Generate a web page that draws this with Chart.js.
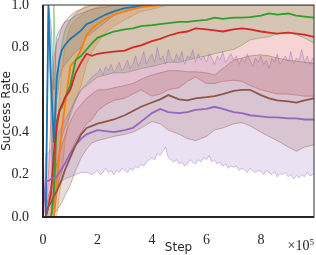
<!DOCTYPE html>
<html>
<head>
<meta charset="utf-8">
<script src="https://cdn.jsdelivr.net/npm/chart.js@4"></script>
<style>
html, body { margin: 0; padding: 0; background: #fff; }
</style>
</head>
<body>
<canvas id="chart" width="316" height="255"></canvas>
<script>
// Success rate curves (mean + band), steps in units of 1e5

const STEPS = [0.0, 0.1, 0.2, 0.3, 0.4, 0.5, 0.6, 0.7, 0.8,
    1.0, 1.2, 1.4, 1.6, 1.8, 2.0, 2.3, 2.6, 3.0, 3.3, 3.6,
    4.0, 4.3, 4.6, 5.0, 5.3, 5.6, 6.0, 6.3, 6.6, 7.0, 7.3, 7.6,
    8.0, 8.3, 8.6, 9.0, 9.3, 9.6, 9.95];

// finer grid for the noisy purple band: early steps, then every 0.1 from 2.0 to 9.9
const PURPLE_STEPS = STEPS.slice(0, 14)
    .concat(Array.from({ length: 80 }, (_, i) => Math.round(20 + i) / 10))
    .concat([9.95]);

const X_TICKS = [0, 2, 4, 6, 8];
const X_TICK_LABELS = ['0', '2', '4', '6', '8'];
const Y_TICKS = [0, 0.2, 0.4, 0.6, 0.8, 1.0];
const Y_TICK_LABELS = ['0.0', '0.2', '0.4', '0.6', '0.8', '1.0'];

// blue
const blue = [null, 0.0, 1.0, 0.62, 0.35, 0.65, 0.74, 0.79, 0.81,
    0.84, 0.86, 0.88, 0.91, 0.92, 0.935, 0.955, 0.97, 0.985, 0.99, 0.995,
    1, 1, 1, 1, 1, 1, 1, 1, 1, 1, 1, 1, 1, 1, 1, 1, 1, 1, 1];
const blueHi = [null, 0.0, 1.0, 0.9, 0.6, 0.85, 0.88, 0.9, 0.92,
    0.93, 0.95, 0.96, 0.97, 0.98, 0.985, 0.99, 1, 1, 1, 1,
    1, 1, 1, 1, 1, 1, 1, 1, 1, 1, 1, 1, 1, 1, 1, 1, 1, 1, 1];
const blueLo = [null, 0.0, 1.0, 0.4, 0.1, 0.55, 0.65, 0.7, 0.72,
    0.75, 0.78, 0.8, 0.85, 0.87, 0.89, 0.92, 0.95, 0.97, 0.98, 0.99,
    0.995, 1, 1, 1, 1, 1, 1, 1, 1, 1, 1, 1, 1, 1, 1, 1, 1, 1, 1];

// orange
const orange = [null, null, null, null, 0.0, 0.12, 0.3, 0.42, 0.52,
    0.71, 0.74, 0.79, 0.86, 0.89, 0.91, 0.935, 0.955, 0.97, 0.98, 0.99,
    0.995, 1, 1, 1, 1, 1, 1, 1, 1, 1, 1, 1, 1, 1, 1, 1, 1, 1, 1];
const orangeHi = [null, null, null, null, 0.05, 0.35, 0.55, 0.7, 0.8,
    0.9, 0.93, 0.95, 0.97, 0.98, 0.99, 1, 1, 1, 1, 1,
    1, 1, 1, 1, 1, 1, 1, 1, 1, 1, 1, 1, 1, 1, 1, 1, 1, 1, 1];
const orangeLo = [null, null, null, null, 0.0, 0.0, 0.1, 0.2, 0.35,
    0.5, 0.55, 0.62, 0.72, 0.78, 0.82, 0.87, 0.9, 0.93, 0.95, 0.97,
    0.98, 0.99, 1, 1, 1, 1, 1, 1, 1, 1, 1, 1, 1, 1, 1, 1, 1, 1, 1];

// green
const green = [null, null, null, 0.0, 0.12, 0.45, 0.5, 0.52, 0.56,
    0.62, 0.74, 0.76, 0.79, 0.82, 0.845, 0.86, 0.875, 0.885, 0.89, 0.9,
    0.905, 0.91, 0.915, 0.92, 0.92, 0.925, 0.93, 0.94, 0.935, 0.94, 0.94, 0.943,
    0.95, 0.96, 0.955, 0.96, 0.95, 0.945, 0.94];
const greenHi = [null, null, null, 0.0, 1.0, 0.6, 0.75, 0.82, 0.88,
    0.93, 0.96, 0.98, 1, 1, 1, 1, 1, 1, 1, 1,
    1, 1, 1, 1, 1, 1, 1, 1, 1, 1, 1, 1, 1, 1, 1, 1, 1, 1, 1];
const greenLo = [null, null, null, 0.0, 0.0, 0.15, 0.3, 0.38, 0.42,
    0.48, 0.55, 0.6, 0.62, 0.64, 0.66, 0.67, 0.68, 0.68, 0.69, 0.7,
    0.71, 0.72, 0.73, 0.73, 0.74, 0.75, 0.76, 0.77, 0.78, 0.79, 0.81, 0.835,
    0.845, 0.85, 0.865, 0.87, 0.86, 0.845, 0.82];

// red
const red = [null, 0.0, 0.05, 0.12, 0.3, 0.42, 0.5, 0.53, 0.56,
    0.6, 0.68, 0.73, 0.77, 0.76, 0.77, 0.775, 0.78, 0.785, 0.8, 0.81,
    0.83, 0.84, 0.855, 0.87, 0.875, 0.89, 0.885, 0.88, 0.875, 0.885, 0.89, 0.885,
    0.875, 0.87, 0.865, 0.87, 0.865, 0.86, 0.85];
const redHi = [null, 0.0, 0.2, 0.5, 0.75, 0.82, 0.85, 0.9, 0.92,
    0.95, 0.97, 0.98, 0.99, 1, 1, 1, 1, 1, 1, 1,
    1, 1, 1, 1, 1, 1, 1, 1, 1, 1, 1, 1, 1, 1, 1, 1, 1, 1, 1];
const redLo = [null, 0.0, 0.0, 0.0, 0.05, 0.12, 0.18, 0.22, 0.25,
    0.3, 0.36, 0.4, 0.44, 0.46, 0.5, 0.53, 0.55, 0.56, 0.58, 0.6,
    0.57, 0.58, 0.6, 0.61, 0.64, 0.66, 0.63, 0.63, 0.64, 0.645, 0.64, 0.62,
    0.6, 0.59, 0.58, 0.58, 0.575, 0.57, 0.57];

// purple (band on PURPLE_STEPS)
const purple = [0.02, 0.17, 0.17, 0.18, 0.185, 0.19, 0.21, 0.23, 0.25,
    0.3, 0.34, 0.37, 0.39, 0.4, 0.41, 0.405, 0.4, 0.41, 0.42, 0.45,
    0.49, 0.51, 0.495, 0.49, 0.495, 0.505, 0.51, 0.52, 0.51, 0.495, 0.49, 0.48,
    0.475, 0.47, 0.47, 0.465, 0.465, 0.46, 0.46];
const purpleHi = [0.0, 0.3, 0.3, 0.32, 0.35, 0.38, 0.4, 0.43, 0.46,
    0.5, 0.56, 0.6, 0.63, 0.66,
    0.68, 0.7, 0.67, 0.71, 0.69, 0.72, 0.68, 0.7, 0.73, 0.69,
    0.71, 0.74, 0.7, 0.72, 0.76, 0.71, 0.74, 0.78, 0.72, 0.75,
    0.77, 0.73, 0.8, 0.74, 0.76, 0.72, 0.79, 0.75, 0.73, 0.77,
    0.74, 0.78, 0.72, 0.76, 0.75, 0.79, 0.73, 0.77, 0.74, 0.76,
    0.73, 0.77, 0.75, 0.72, 0.76, 0.74, 0.78, 0.73, 0.75, 0.77,
    0.74, 0.76, 0.72, 0.75, 0.73, 0.77, 0.74, 0.71, 0.75, 0.73,
    0.76, 0.72, 0.74, 0.7, 0.75, 0.73, 0.77, 0.72, 0.74, 0.76,
    0.73, 0.78, 0.72, 0.75, 0.74, 0.79, 0.73, 0.76, 0.72, 0.75,
    0.74];
const purpleLo = [0.0, 0.05, 0.08, 0.1, 0.12, 0.14, 0.16, 0.17, 0.18,
    0.19, 0.2, 0.21, 0.21, 0.2,
    0.22, 0.2, 0.21, 0.23, 0.21, 0.22, 0.2, 0.22, 0.21, 0.23,
    0.22, 0.21, 0.23, 0.22, 0.24, 0.23, 0.25, 0.24, 0.26, 0.27,
    0.28, 0.27, 0.3, 0.29, 0.31, 0.33, 0.28, 0.27, 0.26, 0.27,
    0.25, 0.26, 0.24, 0.25, 0.27, 0.26, 0.25, 0.27, 0.26, 0.28,
    0.27, 0.29, 0.26, 0.27, 0.25, 0.26, 0.24, 0.25, 0.23, 0.24,
    0.235, 0.24, 0.22, 0.23, 0.225, 0.21, 0.23, 0.22, 0.21, 0.22,
    0.215, 0.2, 0.22, 0.21, 0.2, 0.215, 0.19, 0.205, 0.2, 0.21,
    0.19, 0.2, 0.18, 0.195, 0.185, 0.2, 0.19, 0.21, 0.195, 0.2,
    0.2];

// brown
const brown = [null, 0.0, 0.05, 0.07, 0.1, 0.12, 0.15, 0.18, 0.22,
    0.28, 0.34, 0.39, 0.42, 0.43, 0.44, 0.45, 0.46, 0.48, 0.5, 0.52,
    0.54, 0.555, 0.575, 0.555, 0.55, 0.56, 0.565, 0.57, 0.58, 0.595, 0.6, 0.6,
    0.575, 0.56, 0.55, 0.545, 0.54, 0.55, 0.56];
const brownHi = [null, 0.0, 0.1, 0.15, 0.2, 0.25, 0.3, 0.34, 0.38,
    0.45, 0.5, 0.53, 0.56, 0.58, 0.6, 0.6, 0.61, 0.62, 0.63, 0.65,
    0.67, 0.68, 0.69, 0.69, 0.685, 0.685, 0.68, 0.67, 0.7, 0.74, 0.75, 0.76,
    0.765, 0.76, 0.75, 0.74, 0.735, 0.73, 0.725];
const brownLo = [null, 0.0, 0.0, 0.01, 0.02, 0.03, 0.05, 0.07, 0.1,
    0.15, 0.22, 0.28, 0.32, 0.35, 0.36, 0.37, 0.38, 0.39, 0.4, 0.42,
    0.45, 0.44, 0.41, 0.39, 0.37, 0.36, 0.38, 0.41, 0.42, 0.44, 0.445, 0.43,
    0.4, 0.38, 0.36, 0.33, 0.31, 0.33, 0.34];

const SERIES = [
    { rgb: '31,119,180', mean: blue, hi: blueHi, lo: blueLo, bandSteps: STEPS },
    { rgb: '255,127,14', mean: orange, hi: orangeHi, lo: orangeLo, bandSteps: STEPS },
    { rgb: '44,160,44', mean: green, hi: greenHi, lo: greenLo, bandSteps: STEPS },
    { rgb: '214,39,40', mean: red, hi: redHi, lo: redLo, bandSteps: STEPS },
    { rgb: '148,103,189', mean: purple, hi: purpleHi, lo: purpleLo, bandSteps: PURPLE_STEPS },
    { rgb: '140,86,75', mean: brown, hi: brownHi, lo: brownLo, bandSteps: STEPS }
];

function toPoints(steps, values) {
    return steps.map((s, i) => ({ x: s, y: values[i] }));
}

function buildDatasets() {
    const datasets = [];
    SERIES.forEach((s, i) => {
        // band: upper edge, then lower edge filled to it
        datasets.push({
            data: toPoints(s.bandSteps, s.hi),
            borderColor: 'rgba(' + s.rgb + ',0.4)',
            borderWidth: 1,
            pointRadius: 0,
            fill: false,
            tension: 0,
            order: 40 - i
        });
        datasets.push({
            data: toPoints(s.bandSteps, s.lo),
            borderColor: 'rgba(' + s.rgb + ',0.4)',
            backgroundColor: 'rgba(' + s.rgb + ',0.2)',
            borderWidth: 1,
            pointRadius: 0,
            fill: '-1',
            tension: 0,
            order: 40 - i
        });
    });
    SERIES.forEach((s, i) => {
        datasets.push({
            data: toPoints(STEPS, s.mean),
            borderColor: 'rgb(' + s.rgb + ')',
            borderWidth: 1.8,
            pointRadius: 0,
            fill: false,
            tension: 0,
            order: 10 - i
        });
    });
    return datasets;
}

const framePlugin = {
    id: 'frame',
    afterDatasetsDraw(chart) {
        const { ctx, chartArea: a } = chart;
        ctx.save();
        ctx.strokeStyle = '#333333';
        ctx.lineWidth = 1;
        ctx.strokeRect(a.left, a.top, a.right - a.left, a.bottom - a.top);
        ctx.strokeStyle = '#262626';
        ctx.lineWidth = 2;
        ctx.beginPath();
        ctx.moveTo(a.left, a.top);
        ctx.lineTo(a.left, a.bottom);
        ctx.lineTo(a.right, a.bottom);
        ctx.stroke();
        ctx.restore();
    }
};

const offsetPlugin = {
    id: 'offsetLabel',
    afterDraw(chart) {
        const ctx = chart.ctx;
        const right = chart.chartArea.right;
        ctx.save();
        ctx.fillStyle = '#262626';
        ctx.textBaseline = 'alphabetic';
        ctx.textAlign = 'right';
        ctx.font = '9px "Liberation Serif"';
        ctx.fillText('5', right, 245);
        const w5 = ctx.measureText('5').width;
        ctx.font = '14px "Liberation Serif"';
        ctx.fillText('\u00d710', right - w5, 250);
        ctx.restore();
    }
};

function initChart() {
    const ctx = document.getElementById('chart').getContext('2d');
    const tickFont = { family: "'Liberation Serif', serif", size: 14, lineHeight: 1 };
    const titleFont = { family: "'DejaVu Sans', sans-serif", size: 12 };

    new Chart(ctx, {
        type: 'line',
        data: { datasets: buildDatasets() },
        plugins: [framePlugin, offsetPlugin],
        options: {
            responsive: false,
            animation: false,
            layout: { padding: { top: 5, right: 2, left: 0, bottom: 0 } },
            plugins: {
                legend: { display: false },
                tooltip: { enabled: false }
            },
            scales: {
                x: {
                    type: 'linear',
                    min: 0,
                    max: 9.95,
                    grid: { display: false },
                    border: { display: false },
                    afterBuildTicks: function(scale) {
                        scale.ticks = X_TICKS.map(v => ({ value: v }));
                    },
                    afterFit: function(scale) {
                        scale.height = 38;
                        scale.paddingLeft = 0;
                        scale.paddingRight = 0;
                    },
                    ticks: {
                        font: tickFont,
                        color: '#262626',
                        padding: 8,
                        maxRotation: 0,
                        callback: function(value, index) {
                            return X_TICK_LABELS[index];
                        }
                    },
                    title: {
                        display: true,
                        text: 'Step',
                        color: '#262626',
                        font: titleFont,
                        padding: { top: 0, bottom: 0 }
                    }
                },
                y: {
                    min: 0,
                    max: 1,
                    grid: { display: false },
                    border: { display: false },
                    afterBuildTicks: function(scale) {
                        scale.ticks = Y_TICKS.map(v => ({ value: v }));
                    },
                    afterFit: function(scale) {
                        scale.width = 43;
                        scale.paddingTop = 0;
                        scale.paddingBottom = 0;
                    },
                    ticks: {
                        font: tickFont,
                        color: '#262626',
                        padding: 6,
                        callback: function(value, index) {
                            return Y_TICK_LABELS[index];
                        }
                    },
                    title: {
                        display: true,
                        text: 'Success Rate',
                        color: '#262626',
                        font: titleFont,
                        padding: { top: 0, bottom: 0 }
                    }
                }
            }
        }
    });
}

document.addEventListener('DOMContentLoaded', initChart);
</script>
</body>
</html>
